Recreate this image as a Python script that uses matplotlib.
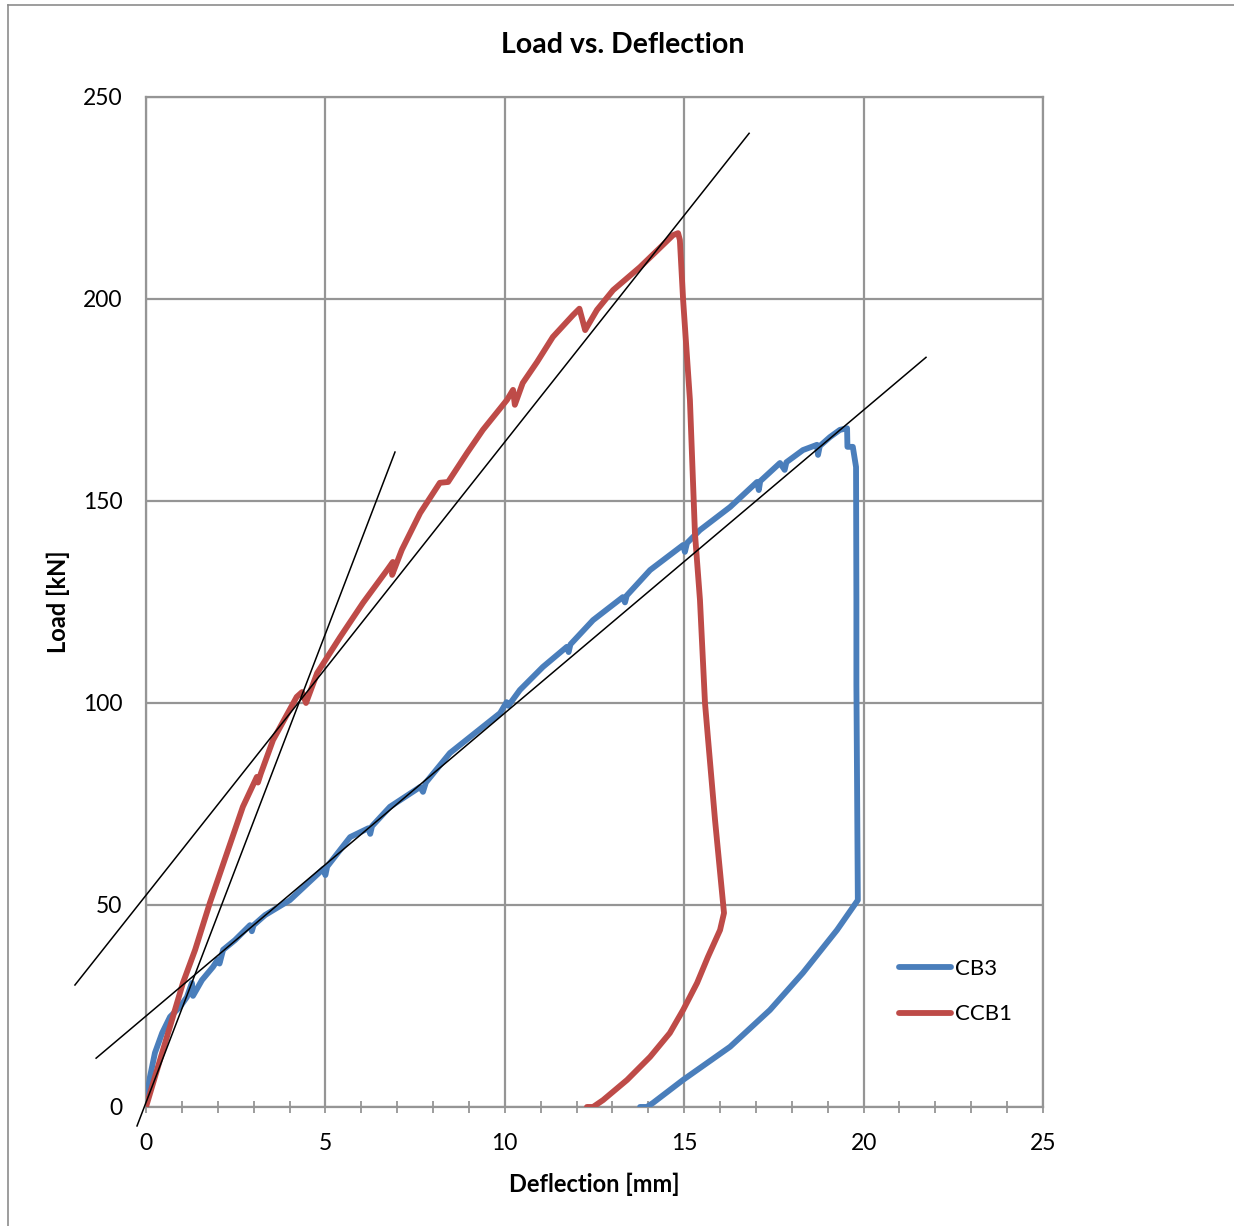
import matplotlib
matplotlib.use("Agg")
import matplotlib.pyplot as plt
from matplotlib.lines import Line2D

plt.rcParams['font.family'] = ['Lato', 'DejaVu Sans']

# Load-deflection records (deflection in mm, load in kN)
cb3_defl = [0.0, 0.0, 0.11, 0.25, 0.45, 0.67, 0.95, 1.14, 1.28, 1.31, 1.56, 1.87, 2.0, 2.05,
            2.15, 2.48, 2.9, 2.95, 3.0, 3.32, 4.01, 4.95, 5.0, 5.05, 5.69, 6.2, 6.25, 6.3,
            6.8, 7.64, 7.72, 7.8, 8.47, 9.87, 10.05, 10.1, 10.42, 11.06, 11.73, 11.78, 11.83,
            12.46, 13.29, 13.35, 13.4, 14.05, 14.97, 15.02, 15.08, 15.44, 16.28, 17.03, 17.08,
            17.12, 17.67, 17.8, 17.85, 18.31, 18.7, 18.73, 18.78, 19.06, 19.34, 19.54, 19.55,
            19.7, 19.79, 19.8, 19.8, 19.84, 19.26, 18.31, 17.39, 16.28, 14.97, 14.13, 13.96,
            13.77]
cb3_load = [0.0, 1.0, 7.4, 13.4, 18.3, 22.3, 24.8, 27.2, 30.7, 27.5, 31.4, 34.7, 36.5, 35.5,
            38.9, 41.3, 45.0, 43.5, 45.0, 47.5, 51.2, 59.0, 57.4, 59.5, 66.8, 69.0, 67.6, 69.5,
            74.3, 79.2, 78.0, 80.3, 87.6, 97.5, 100.2, 99.3, 103.2, 108.9, 113.9, 112.6, 114.5,
            120.5, 126.2, 124.9, 126.6, 132.9, 139.1, 137.4, 139.6, 142.8, 148.5, 154.7, 152.7,
            154.9, 159.4, 157.7, 159.6, 162.6, 163.9, 161.4, 163.6, 165.8, 167.6, 168.0, 163.4,
            163.4, 158.4, 125.5, 104.5, 51.2, 43.8, 33.2, 24.0, 14.9, 6.7, 1.0, 0.0, 0.0]

ccb1_defl = [0.0, 0.39, 0.75, 1.03, 1.37, 1.78, 2.7, 3.09, 3.12, 3.2, 3.54, 4.2, 4.35, 4.46,
             4.77, 5.41, 6.05, 6.72, 6.88, 6.86, 7.13, 7.64, 8.19, 8.42, 8.95, 9.39, 10.06,
             10.23, 10.28, 10.5, 10.9, 11.34, 11.9, 12.08, 12.24, 12.57, 13.02, 13.77, 14.69,
             14.83, 14.88, 14.97, 15.16, 15.3, 15.44, 15.58, 15.66, 15.86, 16.11, 16.0, 15.66,
             15.36, 14.97, 14.6, 14.05, 13.41, 12.74, 12.46, 12.29]
ccb1_load = [0.0, 11.6, 22.3, 30.7, 38.9, 50.5, 74.3, 81.7, 80.3, 82.5, 90.8, 101.5, 102.7,
             100.0, 107.4, 116.3, 124.8, 132.9, 134.9, 131.7, 137.9, 147.0, 154.5, 154.7, 161.9,
             167.6, 175.0, 177.5, 173.8, 179.2, 184.4, 190.6, 196.0, 197.6, 192.3, 197.3, 202.2,
             207.9, 215.8, 216.3, 214.6, 199.8, 175.0, 142.0, 125.5, 100.0, 91.6, 71.0, 48.0,
             43.8, 37.1, 30.7, 24.0, 18.3, 12.4, 6.7, 1.7, 0.0, 0.0]

# Fitted stiffness lines: (start deflection, end deflection, intercept, slope)
fit_x0 = [-0.25, -1.98, -1.39]
fit_x1 = [6.94, 16.81, 21.74]
fit_b = [1.1, 52.4, 22.5]
fit_k = [23.2, 11.22, 7.5]

fig = plt.figure(figsize=(12.34, 12.26), dpi=100)
ax = fig.add_axes([0.1183, 0.0971, 0.7269, 0.8238])

# Outer chart border
fig.add_artist(Line2D([8 / 1234, 1.0], [1 - 5 / 1226, 1 - 5 / 1226], color='#8c8c8c',
                      lw=1.2, transform=fig.transFigure))
fig.add_artist(Line2D([8 / 1234, 8 / 1234], [0.0, 1 - 5 / 1226], color='#8c8c8c',
                      lw=1.2, transform=fig.transFigure))

ax.plot(cb3_defl, cb3_load, color='#4a7ebb', lw=4.2, label='CB3', solid_capstyle='round',
        solid_joinstyle='round', zorder=3)
ax.plot(ccb1_defl, ccb1_load, color='#be4b48', lw=4.2, label='CCB1', solid_capstyle='round',
        solid_joinstyle='round', zorder=4)

for x0, x1, b, k in zip(fit_x0, fit_x1, fit_b, fit_k):
    ax.plot([x0, x1], [b + k * x0, b + k * x1], color='black', lw=1.1, clip_on=False, zorder=5)

ax.set_xlim(0, 25)
ax.set_ylim(0, 250)
ax.set_xticks(range(0, 26, 5))
ax.set_yticks(range(0, 251, 50))
ax.set_xticks(range(0, 26), minor=True)
ax.grid(True, color='#959595', lw=1.6)
ax.set_axisbelow(True)
for s in ax.spines.values():
    s.set_color('#959595')
    s.set_linewidth(1.6)

ax.tick_params(axis='x', which='both', direction='inout', length=9, width=1.3,
               color='#959595', labelsize=16.5, pad=14)
ax.tick_params(axis='y', which='both', length=0, labelsize=16.5, pad=17)

# Chart title is centred over the whole chart area
fig.text(623 / 1234, 1 - 45 / 1226, 'Load vs. Deflection', fontsize=20.5, fontweight='bold',
         ha='center', va='center')
ax.set_xlabel('Deflection [mm]', fontsize=17, fontweight='bold', labelpad=14)
ax.set_ylabel('Load [kN]', fontsize=17, fontweight='bold', labelpad=9)

ax.legend(loc='lower left', bbox_to_anchor=(0.817, 0.062), frameon=False, fontsize=16,
          handlelength=2.35, handletextpad=0.2, labelspacing=1.15)

fig.savefig('out.png', dpi=100)
